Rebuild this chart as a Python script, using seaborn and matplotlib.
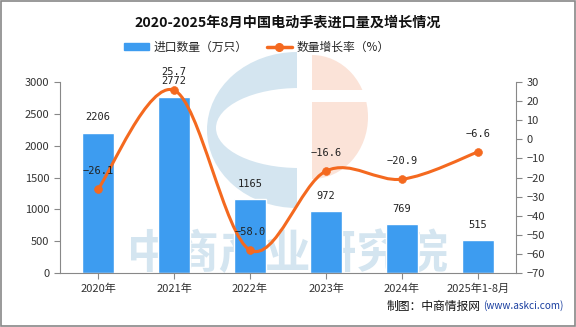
import numpy as np
import pandas as pd
import seaborn as sns
import matplotlib
matplotlib.use("Agg")
import matplotlib.pyplot as plt
from matplotlib.path import Path
from matplotlib.patches import PathPatch, Rectangle, Patch, Wedge
from matplotlib.lines import Line2D
from matplotlib.transforms import Affine2D

categories = ["2020年", "2021年", "2022年", "2023年", "2024年", "2025年1-8月"]
import_qty = [2206, 2772, 1165, 972, 769, 515]
growth = [-26.1, 25.7, -58.0, -16.6, -20.9, -6.6]

title = "2020-2025年8月中国电动手表进口量及增长情况"
bar_name = "进口数量（万只）"
line_name = "数量增长率（%）"
source = "制图：中商情报网"
source_url = "(www.askci.com)"
watermark = "中商产业研究院"

BAR_C = "#3d9cf0"
LINE_C = "#f4691f"

sns.set_theme(style="white")
plt.rcParams['font.family'] = ['Noto Sans CJK SC', 'DejaVu Sans']
plt.rcParams['axes.unicode_minus'] = True

W, H = 576, 327
fig = plt.figure(figsize=(W / 100, H / 100), dpi=100)

# pixel transform (top-left origin) for the faint background logo
px = Affine2D().scale(1 / W, -1 / H).translate(0, 1) + fig.transFigure

def pix_half_ellipse(cx, cy, w, h, t1, t2, color):
    wd = Wedge((0, 0), 1, t1, t2, facecolor=color, edgecolor="none")
    wd.set_transform(Affine2D().scale(w / 2, h / 2).translate(cx, cy) + px)
    wd.set_zorder(-2)
    fig.add_artist(wd)

LOGO_B = "#d4e5f0"
LOGO_O = "#fbe3d8"
pix_half_ellipse(297, 130, 180, 156, 90, 270, LOGO_B)
pix_half_ellipse(299, 128, 166, 80, 90, 270, "white")
pix_half_ellipse(312, 117, 112, 124, -90, 90, LOGO_O)
fig.add_artist(Rectangle((312, 90), 60, 12, facecolor="white", edgecolor="none",
                         transform=px, zorder=-2))

fig.text(0.5, 1 - 255 / H, watermark, ha="center", va="center", fontsize=33,
         color="#d4e5f0", fontweight="bold", zorder=-1)

ax = fig.add_axes([60 / W, 1 - 273 / H, 456 / W, 191 / H])
ax.set_facecolor("none")

df = pd.DataFrame({"cat": categories, "qty": import_qty, "growth": growth})
sns.barplot(data=df, x="cat", y="qty", color=BAR_C, width=0.41, ax=ax, zorder=2, saturation=1)
ax.set_xlim(-0.5, 5.5)
ax.set_ylim(0, 3000)
ax.set_yticks(np.arange(0, 3001, 500))
ax.set_xlabel("")
ax.set_ylabel("")

ax2 = ax.twinx()
ax2.set_facecolor("none")
ax2.set_ylim(-70, 30)
ax2.set_yticks(np.arange(-70, 31, 10))

# smooth line via Catmull-Rom bezier in data coords
x = np.arange(len(growth), dtype=float)
y = np.array(growth, dtype=float)
verts = [(x[0], y[0])]
codes = [Path.MOVETO]
n = len(x)
k = 1 / 6
for i in range(n - 1):
    p0 = (x[i-1], y[i-1]) if i > 0 else (x[i], y[i])
    p1 = (x[i], y[i])
    p2 = (x[i+1], y[i+1])
    p3 = (x[i+2], y[i+2]) if i + 2 < n else (x[i+1], y[i+1])
    c1 = (p1[0] + (p2[0] - p0[0]) * k, p1[1] + (p2[1] - p0[1]) * k)
    c2 = (p2[0] - (p3[0] - p1[0]) * k, p2[1] - (p3[1] - p1[1]) * k)
    verts += [c1, c2, p2]
    codes += [Path.CURVE4] * 3
ax2.add_patch(PathPatch(Path(verts, codes), fill=False, edgecolor=LINE_C, lw=2.2, zorder=3))
sns.scatterplot(x=x, y=y, ax=ax2, color=LINE_C, s=32, edgecolor=LINE_C, zorder=4, legend=False)

# labels
for i, v in enumerate(import_qty):
    ax.annotate(str(v), (i, v), xytext=(0, 11), textcoords="offset points",
                ha="center", va="center", fontsize=7.5, color="#222222", zorder=6,
                family="DejaVu Sans Mono")
for i, v in enumerate(growth):
    ax2.annotate(f"{v:.1f}".replace("-", "\u2212"), (i, v), xytext=(0, 13),
                 textcoords="offset points", ha="center", va="center", fontsize=7.5,
                 color="#222222", zorder=6, family="DejaVu Sans Mono")

for a in (ax, ax2):
    for s in a.spines.values():
        s.set_visible(False)
    a.tick_params(axis="both", labelsize=8, colors="#333333", length=4, width=0.8)
    a.grid(False)
ax.spines["left"].set_visible(True)
ax.spines["bottom"].set_visible(True)
ax2.spines["right"].set_visible(True)
for s in (ax.spines["left"], ax.spines["bottom"], ax2.spines["right"]):
    s.set_color("#888888")
    s.set_linewidth(0.8)
ax.tick_params(axis="y", color="#888888", left=True)
ax.tick_params(axis="x", color="#888888", bottom=True, length=4)
ax2.tick_params(axis="y", color="#888888", right=True)

fig.text(0.5, 1 - 22 / H, title, ha="center", va="center", fontsize=10.2,
         fontweight="bold", color="#111111")

handles = [Patch(facecolor=BAR_C, edgecolor=BAR_C),
           Line2D([0], [0], color=LINE_C, lw=2.5, marker="o", markersize=5.5)]
fig.legend(handles, [bar_name, line_name], loc="center", bbox_to_anchor=(257 / W, 1 - 47 / H),
           ncol=2, frameon=False, fontsize=8.5, handlelength=2.1, handleheight=0.6,
           columnspacing=1.6, handletextpad=0.4)

fig.text(387 / W, 1 - 306 / H, source, ha="left", va="center", fontsize=8.5, color="#111111")
fig.text(483 / W, 1 - 306 / H, source_url, ha="left", va="center", fontsize=7.2, color="#1a3fa0")

fig.add_artist(Rectangle((0.001, 0.002), 0.997, 0.995, transform=fig.transFigure,
                         fill=False, edgecolor="#888888", lw=1.2))

fig.savefig("out.png", dpi=100)
